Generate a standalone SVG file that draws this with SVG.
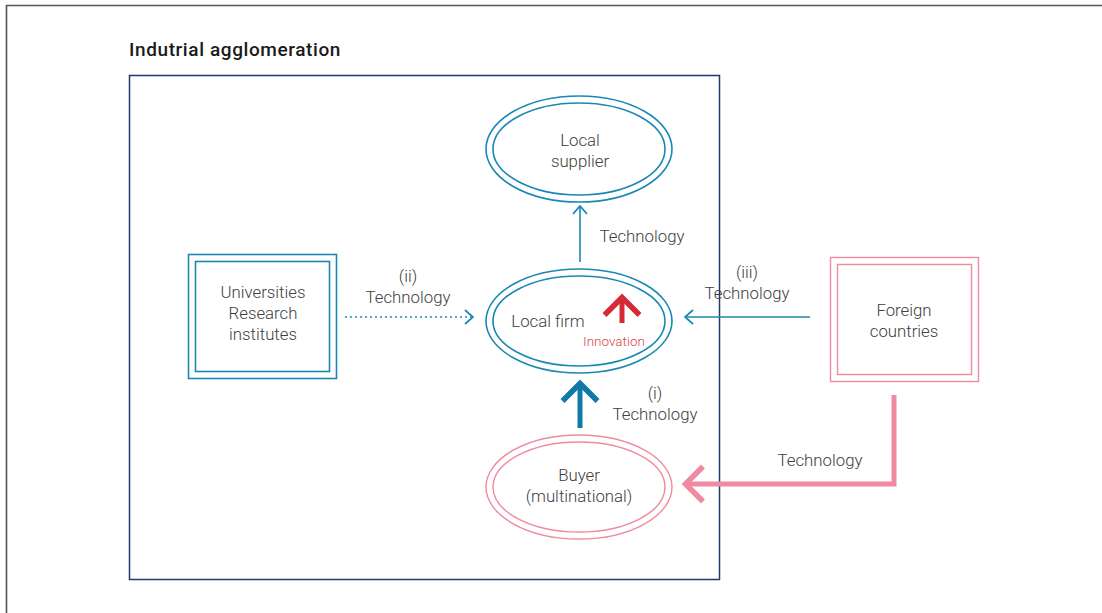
<svg xmlns="http://www.w3.org/2000/svg" width="1102" height="613" viewBox="0 0 1102 613">
<style>
text{font-family:Roboto,"Liberation Sans",sans-serif;font-size:16.8px;fill:#404040;text-anchor:middle;font-weight:300}
.title{font-weight:500;font-size:19px;fill:#1a1a1a;text-anchor:start;letter-spacing:0.6px}
.blue{fill:none;stroke:#1a88b3;stroke-width:1.6}
.pink{fill:none;stroke:#f08aa0;stroke-width:1.4}
</style>
<defs>
<marker id="chev" viewBox="0 0 10 16" refX="9" refY="8" markerWidth="10" markerHeight="16" markerUnits="userSpaceOnUse" orient="auto"><path d="M1,1 L9,8 L1,15" fill="none" stroke="#1a88b3" stroke-width="1.8"/></marker>
<marker id="chevT" viewBox="0 0 10 16" refX="7" refY="8" markerWidth="5" markerHeight="8" orient="auto"><path d="M1,1 L8,8 L1,15" fill="none" stroke="#0f7aa6" stroke-width="2.2"/></marker>
<marker id="chevR" viewBox="0 0 10 16" refX="7" refY="8" markerWidth="5" markerHeight="8" orient="auto"><path d="M1,1 L8,8 L1,15" fill="none" stroke="#d42a35" stroke-width="2.2"/></marker>
<marker id="chevP" viewBox="0 0 10 16" refX="7" refY="8" markerWidth="5" markerHeight="8" orient="auto"><path d="M1,1 L8,8 L1,15" fill="none" stroke="#f08aa0" stroke-width="2.2"/></marker>
</defs>
<rect width="1102" height="613" fill="#fff"/>
<path d="M6.5,613 V5.5 H1102" fill="none" stroke="#555" stroke-width="1.6"/>
<text class="title" x="129" y="56">Indutrial agglomeration</text>
<rect x="129.5" y="75.5" width="590" height="504" fill="none" stroke="#1f3b6b" stroke-width="1.5"/>

<g id="connectors">
<line class="blue" x1="580" y1="262" x2="580" y2="206" marker-end="url(#chev)"/>
<line class="blue" x1="345" y1="317" x2="473" y2="317" stroke-dasharray="2,3" marker-end="url(#chev)"/>
<line class="blue" x1="810" y1="317" x2="685" y2="317" marker-end="url(#chev)"/>
<line x1="580" y1="428" x2="580" y2="386" stroke="#0f7aa6" stroke-width="5" marker-end="url(#chevT)"/>
<line x1="622" y1="323" x2="622" y2="300" stroke="#d42a35" stroke-width="5" marker-end="url(#chevR)"/>
<path d="M894,395 V484 H688" fill="none" stroke="#f08aa0" stroke-width="5" marker-end="url(#chevP)"/>
<text x="642" y="242">Technology</text>
<text x="408" y="282">(ii)</text>
<text x="408" y="303">Technology</text>
<text x="747" y="278">(iii)</text>
<text x="747" y="299">Technology</text>
<text x="655" y="399">(i)</text>
<text x="655" y="420">Technology</text>
<text x="820" y="466">Technology</text>
</g>

<g id="local-supplier">
<ellipse class="blue" cx="579" cy="149" rx="93" ry="53"/>
<ellipse class="blue" cx="579" cy="149" rx="86" ry="46"/>
<text x="580" y="146">Local</text>
<text x="580" y="167">supplier</text>
</g>

<g id="local-firm">
<ellipse class="blue" cx="579" cy="321" rx="93" ry="52"/>
<ellipse class="blue" cx="579" cy="321" rx="86" ry="45"/>
<text x="548" y="327">Local firm</text>
<text x="614" y="346" style="font-size:13.5px;fill:#d8464f">Innovation</text>
</g>

<g id="buyer">
<ellipse class="pink" cx="579" cy="487" rx="93" ry="52"/>
<ellipse class="pink" cx="579" cy="487" rx="86" ry="45"/>
<text x="579" y="481">Buyer</text>
<text x="579" y="502">(multinational)</text>
</g>

<g id="universities">
<rect class="blue" x="188.5" y="254.5" width="148" height="124"/>
<rect class="blue" x="195.5" y="261.5" width="134" height="110"/>
<text x="263" y="298">Universities</text>
<text x="263" y="319">Research</text>
<text x="263" y="340">institutes</text>
</g>

<g id="foreign">
<rect class="pink" x="830.5" y="257.5" width="148" height="124"/>
<rect class="pink" x="837.5" y="264.5" width="134" height="110"/>
<text x="904" y="316">Foreign</text>
<text x="904" y="337">countries</text>
</g>
</svg>
